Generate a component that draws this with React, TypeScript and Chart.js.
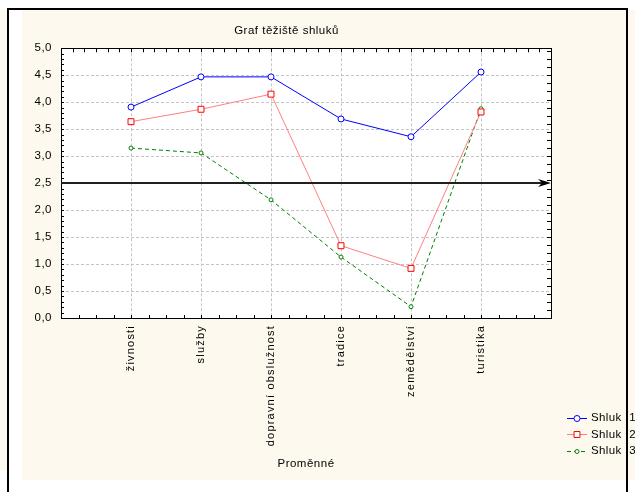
import React, { useEffect, useRef } from 'react';
import { Chart, registerables } from 'chart.js';

Chart.register(...registerables);

// ---- data ----
const categories = ['živnosti', 'služby', 'dopravní obslužnost', 'tradice', 'zemědělství', 'turistika'];
const seriesNames = ['Shluk 1', 'Shluk 2', 'Shluk 3'];
const shluk1 = [3.91, 4.47, 4.47, 3.69, 3.36, 4.56];
const shluk2 = [3.64, 3.87, 4.15, 1.34, 0.92, 3.82];
const shluk3 = [3.15, 3.06, 2.19, 1.13, 0.21, 3.88];
const yMin = 0;
const yMax = 5;
const yStep = 0.5;
const referenceLevel = 2.5;
const chartTitle = 'Graf těžiště shluků';
const xAxisTitle = 'Proměnné';

// ---- style ----
const FONT = "'Liberation Sans', Arial, sans-serif";
const CREAM = '#fdf9ef';
const GRID = '#c4c4c4';

const toPoints = (vals: number[]) => vals.map((y, i) => ({ x: i + 1, y }));

const drawMarker = (ctx: CanvasRenderingContext2D, style: string, x: number, y: number, r: number, stroke: string, fill: string) => {
  ctx.save();
  ctx.setLineDash([]);
  ctx.lineWidth = 1;
  ctx.strokeStyle = stroke;
  ctx.fillStyle = fill;
  ctx.beginPath();
  if (style === 'rect') {
    const s = Math.SQRT1_2 * r;
    ctx.rect(x - s, y - s, 2 * s, 2 * s);
  } else {
    ctx.arc(x, y, r, 0, Math.PI * 2);
  }
  ctx.fill();
  ctx.stroke();
  ctx.restore();
};

const decorPlugin = {
  id: 'decor',
  beforeDraw(chart: any) {
    const { ctx, chartArea: a, width, height } = chart;
    ctx.save();
    ctx.fillStyle = CREAM;
    ctx.fillRect(0, 0, width, height);
    ctx.fillStyle = '#ffffff';
    ctx.fillRect(a.left, a.top, a.right - a.left, a.bottom - a.top);
    ctx.restore();
    (ctx as any).letterSpacing = '0.5px';
    const xs: any = chart.scales.x;
    if (xs && !xs.__wrapped) {
      const orig = xs.drawLabels.bind(xs);
      xs.drawLabels = (area: any) => {
        const c: any = chart.ctx;
        const prev = c.letterSpacing;
        c.letterSpacing = '1.2px';
        orig(area);
        c.letterSpacing = prev;
      };
      xs.__wrapped = true;
    }
  },
  beforeDatasetsDraw(chart: any) {
    const { ctx, chartArea: a, scales } = chart;
    const xs = scales.x;
    const ys = scales.y;
    ctx.save();
    ctx.strokeStyle = '#000';
    ctx.lineWidth = 1;
    ctx.setLineDash([]);
    ctx.beginPath();
    for (let v = yMin; v <= yMax + 1e-9; v += 0.1) {
      const py = Math.round(ys.getPixelForValue(v)) + 0.5;
      ctx.moveTo(a.left, py);
      ctx.lineTo(a.left + 3, py);
    }
    for (let v = yMin; v <= yMax + 1e-9; v += 0.15) {
      const py = Math.round(ys.getPixelForValue(v)) + 0.5;
      ctx.moveTo(a.right, py);
      ctx.lineTo(a.right - 4, py);
    }
    for (let v = 0; v <= 7 + 1e-9; v += 0.25) {
      const px = Math.round(xs.getPixelForValue(v)) + 0.5;
      ctx.moveTo(px, a.bottom);
      ctx.lineTo(px, a.bottom - 3);
    }
    for (let v = 0; v <= 7 + 1e-9; v += 1 / 6) {
      const px = Math.round(xs.getPixelForValue(v)) + 0.5;
      ctx.moveTo(px, a.top);
      ctx.lineTo(px, a.top + 4);
    }
    ctx.stroke();
    ctx.strokeRect(Math.round(a.left) + 0.5, Math.round(a.top) + 0.5, Math.round(a.right - a.left), Math.round(a.bottom - a.top));
    ctx.restore();
  },
  afterDatasetsDraw(chart: any) {
    const { ctx, chartArea: a, scales } = chart;
    const py = Math.round(scales.y.getPixelForValue(referenceLevel));
    ctx.save();
    ctx.setLineDash([]);
    ctx.strokeStyle = '#202020';
    ctx.lineWidth = 2;
    ctx.beginPath();
    ctx.moveTo(a.left, py);
    ctx.lineTo(a.right - 6, py);
    ctx.stroke();
    ctx.fillStyle = '#000';
    ctx.beginPath();
    ctx.moveTo(a.right, py);
    ctx.lineTo(a.right - 13, py - 4);
    ctx.lineTo(a.right - 9, py);
    ctx.lineTo(a.right - 13, py + 4);
    ctx.closePath();
    ctx.fill();
    ctx.restore();
  },
  afterDraw(chart: any) {
    const { ctx } = chart;
    const ds = chart.data.datasets;
    ctx.save();
    ctx.font = `11.5px ${FONT}`;
    (ctx as any).letterSpacing = '0.4px';
    (ctx as any).wordSpacing = '4px';
    ctx.textBaseline = 'middle';
    ctx.textAlign = 'left';
    ds.forEach((d: any, i: number) => {
      const y = 407.5 + i * 16.5;
      const x0 = 545;
      const x1 = 565;
      ctx.strokeStyle = d.borderColor;
      ctx.lineWidth = 1;
      ctx.setLineDash(d.borderDash || []);
      ctx.beginPath();
      ctx.moveTo(x0, Math.round(y) + 0.5);
      ctx.lineTo(x1, Math.round(y) + 0.5);
      ctx.stroke();
      drawMarker(ctx, d.pointStyle, (x0 + x1) / 2, Math.round(y) + 0.5, d.pointRadius, d.pointBorderColor, d.pointBackgroundColor);
      ctx.fillStyle = '#000';
      ctx.fillText(d.label, 569, y + 0.5);
    });
    (ctx as any).wordSpacing = '0px';
    ctx.restore();
  },
};

export default function App() {
  const ref = useRef<HTMLCanvasElement | null>(null);

  useEffect(() => {
    if (!ref.current) return;
    const chart = new Chart(ref.current, {
      type: 'line',
      data: {
        datasets: [
          {
            label: seriesNames[0],
            data: toPoints(shluk1),
            borderColor: '#0000ff',
            borderWidth: 1,
            pointStyle: 'circle',
            pointRadius: 3,
            pointBorderColor: '#0000ff',
            pointBackgroundColor: '#ffffff',
            pointBorderWidth: 1,
            fill: false,
            tension: 0,
          },
          {
            label: seriesNames[1],
            data: toPoints(shluk2),
            borderColor: '#ff8080',
            borderWidth: 1,
            pointStyle: 'rect',
            pointRadius: 4.2,
            pointBorderColor: '#ff0000',
            pointBackgroundColor: '#ffffff',
            pointBorderWidth: 1,
            fill: false,
            tension: 0,
          },
          {
            label: seriesNames[2],
            data: toPoints(shluk3),
            borderColor: '#008000',
            borderWidth: 1,
            borderDash: [4, 3],
            pointStyle: 'circle',
            pointRadius: 2,
            pointBorderColor: '#008000',
            pointBackgroundColor: '#ffffff',
            pointBorderWidth: 1,
            fill: false,
            tension: 0,
          },
        ] as any,
      },
      options: {
        animation: false,
        responsive: false,
        devicePixelRatio: 1,
        layout: { padding: { top: 0, left: 0, right: 84, bottom: 0 } },
        plugins: {
          legend: { display: false },
          tooltip: { enabled: false },
          title: {
            display: true,
            text: chartTitle,
            color: '#000',
            font: { family: FONT, size: 11.5, weight: 'normal' },
            padding: { top: 14.4, bottom: 10.1 },
          },
        },
        scales: {
          x: {
            type: 'linear',
            min: 0,
            max: 7,
            afterFit: (s: any) => { s.height = 162; },
            border: { display: false, dash: [3, 2] },
            grid: {
              drawTicks: false,
              color: (c: any) => {
                const v = c.tick ? c.tick.value : -1;
                return v >= 1 && v <= categories.length ? GRID : 'rgba(0,0,0,0)';
              },
            },
            ticks: {
              stepSize: 1,
              autoSkip: false,
              minRotation: 90,
              maxRotation: 90,
              padding: 7,
              color: '#000',
              font: { family: FONT, size: 11 },
              callback: (v: any) => categories[Number(v) - 1] ?? '',
            },
            title: {
              display: true,
              text: xAxisTitle,
              color: '#000',
              font: { family: FONT, size: 11.5 },
              padding: { top: 0, bottom: 9.4 },
            },
          },
          y: {
            type: 'linear',
            min: yMin,
            max: yMax,
            afterFit: (s: any) => { s.width = 39; },
            border: { display: false, dash: [3, 2] },
            grid: { drawTicks: false, color: GRID },
            ticks: {
              stepSize: yStep,
              padding: 9,
              color: '#000',
              font: { family: FONT, size: 11.5 },
              callback: (v: any) => Number(v).toFixed(1).replace('.', ','),
            },
          },
        },
      } as any,
      plugins: [decorPlugin],
    });
    return () => chart.destroy();
  }, []);

  const line = (left: number, top: number, width: number, height: number, bg: string) => (
    <div style={{ position: 'absolute', left, top, width, height, background: bg }} />
  );

  return (
    <div style={{ position: 'fixed', left: 0, top: 0, width: 635, height: 492, background: '#ffffff', overflow: 'hidden' }}>
      {line(0, 10, 7, 460, CREAM)}
      <canvas
        ref={ref}
        width={613}
        height={470}
        style={{ position: 'absolute', left: 22, top: 10, width: 613, height: 470 }}
      />
      {line(7, 8, 2, 484, '#000')}
      {line(7, 8, 621, 2, '#000')}
      {line(626, 8, 2, 484, '#000')}
    </div>
  );
}
